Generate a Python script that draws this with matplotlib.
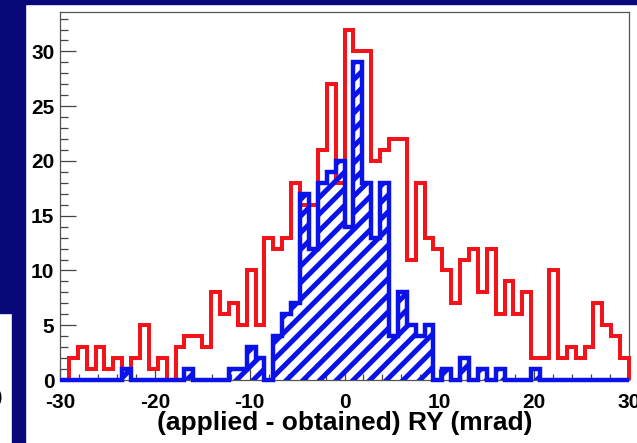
import numpy as np
import matplotlib
matplotlib.use("Agg")
import matplotlib.pyplot as plt
from matplotlib.patches import Rectangle
from matplotlib.ticker import MultipleLocator

# 64 bins between -30 and 30 mrad
n_bins = 64
bin_edges = np.linspace(-30, 30, n_bins + 1)

# red: all events
red_counts = [0, 2, 3, 1, 3, 1, 2, 1,
              2, 5, 1, 2, 0, 3, 4, 4,
              3, 8, 6, 7, 5, 10, 5, 13,
              12, 13, 18, 16, 16, 21, 27, 18,
              32, 30, 30, 20, 21, 22, 22, 11,
              18, 13, 12, 10, 7, 11, 12, 8,
              12, 6, 9, 6, 8, 2, 2, 10,
              2, 3, 2, 3, 7, 5, 4, 2]

# blue: selected events (hatched)
blue_counts = [0, 0, 0, 0, 0, 0, 0, 1,
               0, 0, 0, 0, 0, 0, 1, 0,
               0, 0, 0, 1, 1, 3, 2, 0,
               4, 6, 7, 17, 12, 18, 19, 20,
               14, 29, 18, 13, 18, 4, 8, 5,
               4, 5, 0, 1, 0, 2, 0, 1,
               0, 1, 0, 0, 0, 1, 0, 0,
               0, 0, 0, 0, 0, 0, 0, 0]

x_ticks = [-30, -20, -10, 0, 10, 20, 30]
y_ticks = [0, 5, 10, 15, 20, 25, 30]
x_title = "(applied - obtained) RY (mrad)"

NAVY = '#08087a'
RED = '#f2141a'
BLUE = '#0a12ea'

plt.rcParams['font.family'] = ['Liberation Sans', 'DejaVu Sans']
plt.rcParams['font.weight'] = 'bold'
plt.rcParams['axes.unicode_minus'] = False
plt.rcParams['hatch.linewidth'] = 3.6

W, H = 637, 443
fig = plt.figure(figsize=(W / 100, H / 100), dpi=100)
fig.patch.set_facecolor('white')

# bits of the slide background around the plot
fig.patches.append(Rectangle((0, 1 - 4 / H), 1, 4 / H, transform=fig.transFigure,
                             color=NAVY, zorder=0))
fig.patches.append(Rectangle((12 / W, 0), 13 / W, 1, transform=fig.transFigure,
                             color=NAVY, zorder=0))
fig.patches.append(Rectangle((0, 1 - 313 / H), 12 / W, 313 / H, transform=fig.transFigure,
                             color=NAVY, zorder=0))
fig.text(-4 / W, 1 - 398 / H, ")", fontsize=14, ha='left', va='center', color='black')

ax = fig.add_axes([60 / W, 63 / H, 569 / W, 368 / H])
ax.set_facecolor('white')

ax.stairs(red_counts, bin_edges, color=RED, linewidth=2.9, zorder=3, clip_on=False)
ax.stairs(blue_counts, bin_edges, fill=True, facecolor='none', edgecolor=BLUE,
          hatch='//', linewidth=3.2, zorder=4, clip_on=False)

ax.set_xlim(-30, 30)
ax.set_ylim(0, 33.6)
ax.set_xticks(x_ticks)
ax.set_yticks(y_ticks)
ax.xaxis.set_minor_locator(MultipleLocator(2))
ax.yaxis.set_minor_locator(MultipleLocator(1))

for s in ax.spines.values():
    s.set_color('#555555')
    s.set_linewidth(0.9)
    s.set_zorder(2)

ax.tick_params(axis='both', which='both', direction='in', top=False, right=False,
               color='#444444', width=0.9, labelsize=15)
ax.tick_params(axis='y', which='major', length=11.5, pad=4)
ax.tick_params(axis='y', which='minor', length=5.8)
ax.tick_params(axis='x', which='major', length=8, pad=9.5)
ax.tick_params(axis='x', which='minor', length=4)

ax.set_xlabel(x_title, fontsize=19, fontweight='bold')
ax.xaxis.set_label_coords(0.5, -0.117)
ax.xaxis.label.set_va('center')

fig.savefig("out.png", dpi=100, facecolor=fig.get_facecolor())
plt.close(fig)
